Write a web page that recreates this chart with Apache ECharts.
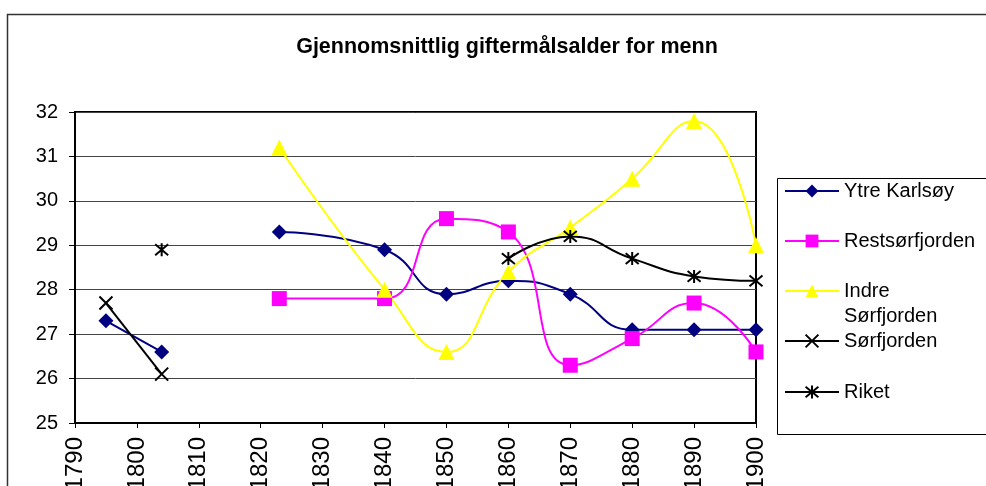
<!DOCTYPE html>
<html>
<head>
<meta charset="utf-8">
<script src="https://cdn.jsdelivr.net/npm/echarts@6/dist/echarts.min.js"></script>
<style>
	html, body { margin: 0; padding: 0; background: #fff; }
	#chart { width: 986px; height: 486px; }
</style>
</head>
<body>
<div id="chart"></div>
<script>
	// years on the x axis (value axis), '-' breaks a line
	var ytreKarlsoy = [[1795, 27.3], [1804, 26.6], [1813, '-'], [1823, 29.3], [1840, 28.9], [1850, 27.9], [1860, 28.2], [1870, 27.9], [1880, 27.1], [1890, 27.1], [1900, 27.1]]
	var restsorfjorden = [[1823, 27.8], [1840, 27.8], [1850, 29.6], [1860, 29.3], [1870, 26.3], [1880, 26.9], [1890, 27.7], [1900, 26.6]]
	var indreSorfjorden = [[1823, 31.2], [1840, 28.0], [1850, 26.6], [1860, 28.4], [1870, 29.4], [1880, 30.5], [1890, 31.8], [1900, 29.0]]
	var sorfjorden = [[1795, 27.7], [1804, 26.1]]
	var riket = [[1804, 28.9], [1830, '-'], [1860, 28.7], [1870, 29.2], [1880, 28.7], [1890, 28.3], [1900, 28.2]]

	var seriesNames = ['Ytre Karlsøy', 'Restsørfjorden', 'Indre Sørfjorden', 'Sørfjorden', 'Riket']
	var legendCenters = [191, 241, 291, 341, 392]

	var font = 'Liberation Sans, Arial, sans-serif'
	var xSymbol = 'path://M0,0L10,10M10,0L0,10'
	var starSymbol = 'path://M0,0L10,10M10,0L0,10M5,-1L5,11'

	var chart = echarts.init(document.getElementById('chart'))

	function lineSeries(name, data, color, symbol, size, smooth) {
		return {
			name: name,
			type: 'line',
			data: data,
			smooth: smooth,
			symbol: symbol,
			symbolSize: size,
			showAllSymbol: true,
			connectNulls: false,
			animation: false,
			itemStyle: {
				color: color,
				borderColor: color,
				borderWidth: symbol.indexOf('path') === 0 ? 2 : 0
			},
			lineStyle: {
				color: color,
				width: 2
			}
		}
	}

	var legends = seriesNames.map(function (name, i) {
		var twoLines = name === 'Indre Sørfjorden'
		var h = twoLines ? 75 : 25
		return {
			data: [name],
			orient: 'vertical',
			left: 784,
			top: legendCenters[i] - h / 2,
			padding: 0,
			itemWidth: 54,
			itemHeight: 16,
			selectedMode: false,
			formatter: function (n) {
				return n === 'Indre Sørfjorden' ? '\nIndre\nSørfjorden' : n
			},
			textStyle: {
				fontFamily: font,
				fontSize: 20,
				color: '#000',
				lineHeight: 25
			}
		}
	})

	chart.setOption({
		backgroundColor: '#fff',
		title: {
			text: 'Gjennomsnittlig giftermålsalder for menn',
			left: 502,
			top: 31,
			textAlign: 'center',
			textStyle: {
				fontFamily: font,
				fontSize: 21.5,
				fontWeight: 'bold',
				color: '#000'
			}
		},
		graphic: [{
			type: 'rect',
			left: 5,
			top: 12,
			shape: { width: 1000, height: 500 },
			style: { fill: 'none', stroke: '#333', lineWidth: 1.5 },
			silent: true
		}, {
			type: 'rect',
			left: 775,
			top: 176,
			shape: { width: 240, height: 256 },
			style: { fill: 'none', stroke: '#000', lineWidth: 1 },
			silent: true
		}],
		legend: legends,
		grid: {
			left: 75,
			right: 230,
			top: 112,
			bottom: 63,
			show: true,
			borderColor: '#000',
			borderWidth: 2,
			containLabel: false,
			outerBoundsMode: 'none'
		},
		xAxis: {
			type: 'value',
			min: 1790,
			max: 1900,
			interval: 10,
			axisLine: { lineStyle: { color: '#000', width: 2 } },
			axisTick: { show: true, length: 5, lineStyle: { color: '#000' } },
			splitLine: { show: false },
			axisLabel: {
				rotate: 90,
				margin: 14,
				fontFamily: font,
				fontSize: 24,
				color: '#000',
				showMinLabel: true,
				showMaxLabel: true,
				formatter: function (v) { return String(v) }
			}
		},
		yAxis: {
			type: 'value',
			min: 25,
			max: 32,
			interval: 1,
			axisLine: { show: true, lineStyle: { color: '#000', width: 2 } },
			axisTick: { show: true, length: 6, lineStyle: { color: '#000' } },
			splitLine: { show: true, lineStyle: { color: '#444', width: 1 } },
			axisLabel: {
				margin: 17,
				fontFamily: font,
				fontSize: 20,
				color: '#000'
			}
		},
		series: [
			lineSeries('Ytre Karlsøy', ytreKarlsoy, '#000080', 'diamond', 15, 0.5),
			lineSeries('Restsørfjorden', restsorfjorden, '#ff00ff', 'rect', 15, 0.5),
			lineSeries('Indre Sørfjorden', indreSorfjorden, '#ffff00', 'triangle', 16, 0.5),
			lineSeries('Sørfjorden', sorfjorden, '#000', xSymbol, 13, false),
			lineSeries('Riket', riket, '#000', starSymbol, 13, 0.5)
		]
	})
</script>
</body>
</html>
